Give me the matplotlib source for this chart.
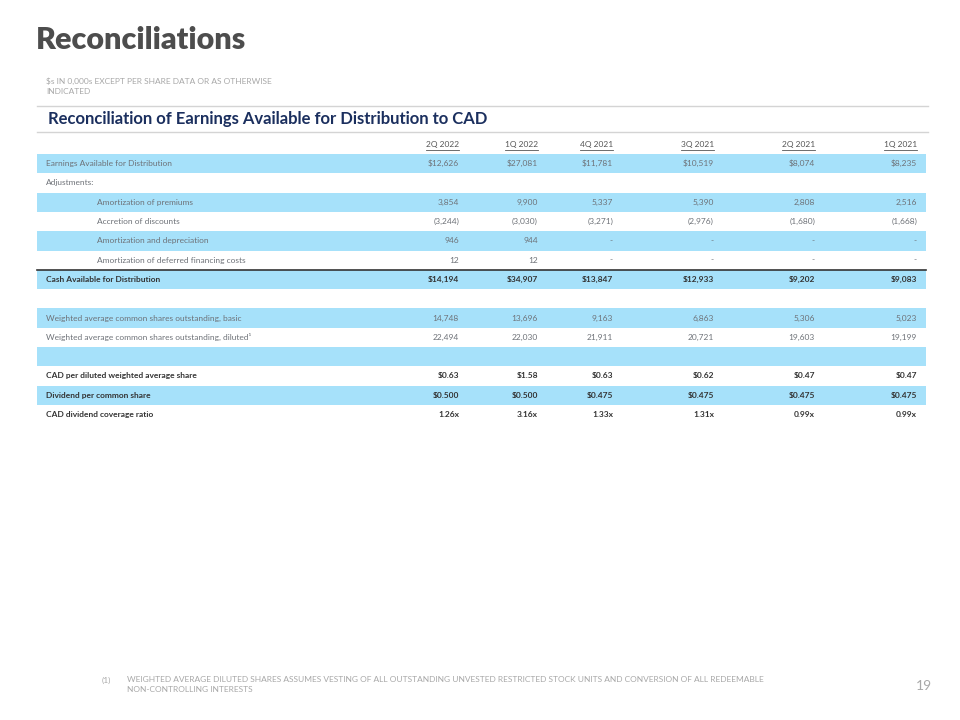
import matplotlib.pyplot as plt
from matplotlib.patches import Rectangle

plt.rcParams['font.family'] = ['Lato', 'DejaVu Sans']

# Data
periods = ['2Q 2022', '1Q 2022', '4Q 2021', '3Q 2021', '2Q 2021', '1Q 2021']
earnings = [12626, 27081, 11781, 10519, 8074, 8235]
amort_premiums = [3854, 9900, 5337, 5390, 2808, 2516]
accretion_discounts = [-3244, -3030, -3271, -2976, -1680, -1668]
amort_depreciation = [946, 944, None, None, None, None]
amort_financing = [12, 12, None, None, None, None]
cash_available = [14194, 34907, 13847, 12933, 9202, 9083]
shares_basic = [14748, 13696, 9163, 6863, 5306, 5023]
shares_diluted = [22494, 22030, 21911, 20721, 19603, 19199]
cad_per_share = [0.63, 1.58, 0.63, 0.62, 0.47, 0.47]
dividend_per_share = [0.500, 0.500, 0.475, 0.475, 0.475, 0.475]
coverage_ratio = [1.26, 3.16, 1.33, 1.31, 0.99, 0.99]


def fmt_num(v, dollar=False):
    if v is None:
        return '-'
    s = '{:,}'.format(abs(v))
    if dollar:
        s = '$' + s
    return '({})'.format(s) if v < 0 else s


# (label, values as text, indent, bold, blue band)
rows = [
    ('Earnings Available for Distribution', [fmt_num(v, True) for v in earnings], False, False, True),
    ('Adjustments:', None, False, False, False),
    ('Amortization of premiums', [fmt_num(v) for v in amort_premiums], True, False, True),
    ('Accretion of discounts', [fmt_num(v) for v in accretion_discounts], True, False, False),
    ('Amortization and depreciation', [fmt_num(v) for v in amort_depreciation], True, False, True),
    ('Amortization of deferred financing costs', [fmt_num(v) for v in amort_financing], True, False, False),
    ('Cash Available for Distribution', [fmt_num(v, True) for v in cash_available], False, True, True),
    ('', None, False, False, False),
    ('Weighted average common shares outstanding, basic', [fmt_num(v) for v in shares_basic], False, False, True),
    ('Weighted average common shares outstanding, diluted\u00b9', [fmt_num(v) for v in shares_diluted], False, False, False),
    ('', None, False, False, True),
    ('CAD per diluted weighted average share', ['${:.2f}'.format(v) for v in cad_per_share], False, True, False),
    ('Dividend per common share', ['${:.3f}'.format(v) for v in dividend_per_share], False, True, True),
    ('CAD dividend coverage ratio', ['{:.2f}x'.format(v) for v in coverage_ratio], False, True, False),
]

col_right = [459, 538, 613, 714, 815, 917]
band_left, band_right = 37, 926
row_top = 154
row_h = 19.3
blue = '#a6e1fa'

fig = plt.figure(figsize=(9.6, 7.2), dpi=100)
ax = fig.add_axes([0, 0, 1, 1])
ax.set_xlim(0, 960)
ax.set_ylim(720, 0)
ax.axis('off')

# Title block
ax.text(36, 40, 'Reconciliations', fontsize=22, fontweight='heavy',
        color='#4d4d4d', va='center', ha='left')
ax.text(46, 81, '$s IN 0,000s EXCEPT PER SHARE DATA OR AS OTHERWISE',
        fontsize=6, color='#a8a8a8', va='center')
ax.text(46, 91, 'INDICATED', fontsize=6, color='#a8a8a8', va='center')
ax.plot([37, 928], [106, 106], color='#d4d4d4', lw=1)
ax.text(48, 119, 'Reconciliation of Earnings Available for Distribution to CAD',
        fontsize=12, fontweight='bold', color='#1b2f5e', va='center')
ax.plot([37, 928], [132, 132], color='#d4d4d4', lw=1)

# Column headers, underlined
fig.canvas.draw()
renderer = fig.canvas.get_renderer()
inv = ax.transData.inverted()
for x, p in zip(col_right, periods):
    t = ax.text(x, 145, p, fontsize=6, color='#555555', ha='right', va='center')
    bb = t.get_window_extent(renderer)
    (x0, _), (x1, _) = inv.transform([(bb.x0, bb.y0), (bb.x1, bb.y0)])
    ax.plot([x0, x1], [150, 150], color='#555555', lw=0.6)

# Body rows
for i, (label, vals, indent, bold, band) in enumerate(rows):
    top = row_top + i * row_h
    yc = top + row_h / 2
    if band:
        ax.add_patch(Rectangle((band_left, top), band_right - band_left, row_h,
                               facecolor=blue, edgecolor='none', zorder=0))
    color = '#333333' if bold else '#6e7278'
    weight = 'bold' if bold else 'normal'
    if label:
        ax.text(97 if indent else 46, yc, label, fontsize=6, color=color,
                fontweight=weight, va='center', ha='left')
    if vals:
        for x, v in zip(col_right, vals):
            ax.text(x, yc, v, fontsize=6, color=color, fontweight=weight,
                    va='center', ha='right')

# Dark rule above Cash Available for Distribution
cash_top = row_top + 6 * row_h
ax.plot([band_left, band_right], [cash_top, cash_top], color='#333333', lw=1.2)

# Footnote and page number
ax.text(102, 680, '(1)', fontsize=6, color='#a8a8a8', va='center')
ax.text(127, 680, 'WEIGHTED AVERAGE DILUTED SHARES ASSUMES VESTING OF ALL OUTSTANDING '
        'UNVESTED RESTRICTED STOCK UNITS AND CONVERSION OF ALL REDEEMABLE',
        fontsize=6, color='#a8a8a8', va='center')
ax.text(127, 690, 'NON-CONTROLLING INTERESTS', fontsize=6, color='#a8a8a8', va='center')
ax.text(932, 686, '19', fontsize=10, color='#a8a8a8', ha='right', va='center')

fig.savefig('out.png', dpi=100)
